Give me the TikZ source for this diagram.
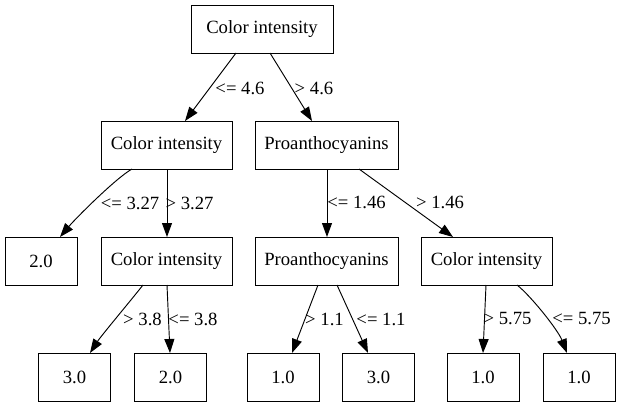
\documentclass[tikz,border=0pt]{standalone}
\usepackage{fontspec}
\setmainfont{Liberation Serif}
\newfontfamily\gvfont{Liberation Serif}
\usetikzlibrary{arrows.meta,calc}
\begin{document}
\begin{tikzpicture}[x=0.75pt,y=-0.75pt,
  box/.style={draw,line width=0.7pt,rectangle,minimum height=36pt,inner sep=0pt,outer sep=0pt,font=\gvfont\fontsize{14}{16}\selectfont},
  lbl/.style={inner sep=0pt,outer sep=0pt,font=\gvfont\fontsize{14}{16}\selectfont},
  edge/.style={line width=0.7pt,-{Triangle[length=10.5pt,width=7.5pt]}}]
\useasboundingbox (0,0) rectangle (620,407);
% nodes
\node[box,minimum width=106.5pt] (root) at (262,29) {Color intensity};
\node[box,minimum width=98.25pt] (ci1) at (166.5,145) {Color intensity};
\node[box,minimum width=107.25pt] (pr1) at (326.5,145) {Proanthocyanins};
\node[box,minimum width=54pt] (l20) at (41,261) {2.0};
\node[box,minimum width=98.25pt] (ci2) at (166.5,261) {Color intensity};
\node[box,minimum width=107.25pt] (pr2) at (326.5,261) {Proanthocyanins};
\node[box,minimum width=98.25pt] (ci3) at (486.5,261) {Color intensity};
\node[box,minimum width=54pt] (la) at (74.5,377) {3.0};
\node[box,minimum width=54pt] (lb) at (170.5,377) {2.0};
\node[box,minimum width=54pt] (lc) at (283,377) {1.0};
\node[box,minimum width=54pt] (ld) at (378.5,377) {3.0};
\node[box,minimum width=54pt] (le) at (483,377) {1.0};
\node[box,minimum width=54pt] (lf) at (579,377) {1.0};
% edges
\draw[edge] ($(root.south)+(-26,0)$) -- ($(ci1.north)+(18.5,0)$);
\draw[edge] ($(root.south)+(8,0)$) -- ($(pr1.north)+(-14.5,0)$);
\draw[edge] ($(ci1.south)+(-34.5,0)$) .. controls ($(ci1.south)+(-50.5,9)$) and ($(l20.north)+(35,-19)$) .. ($(l20.north)+(19,0)$);
\draw[edge] ($(ci1.south)+(0.5,0)$) -- ($(ci2.north)+(0.5,0)$);
\draw[edge] ($(pr1.south)+(0.5,0)$) -- ($(pr2.north)+(0.5,0)$);
\draw[edge] ($(pr1.south)+(32.5,0)$) -- ($(ci3.north)+(-33.5,0)$);
\draw[edge] ($(ci2.south)+(-23.5,0)$) .. controls ($(ci2.south)+(-34.5,14)$) and ($(la.north)+(26.5,-17)$) .. ($(la.north)+(15.5,0)$);
\draw[edge] ($(ci2.south)+(0.5,0)$) -- ($(lb.north)+(-0.5,0)$);
\draw[edge] ($(pr2.south)+(-8.5,0)$) -- ($(lc.north)+(9,0)$);
\draw[edge] ($(pr2.south)+(10.5,0)$) -- ($(ld.north)+(-10.5,0)$);
\draw[edge] ($(ci3.south)+(-0.5,0)$) -- ($(le.north)+(0,0)$);
\draw[edge] ($(ci3.south)+(30.5,0)$) .. controls ($(ci3.south)+(44.5,11)$) and ($(lf.north)+(-21,-23)$) .. ($(lf.north)+(-12,0)$);
% labels
\node[lbl] (t1) at (240,88) {<= 4.6};
\node[lbl] (t2) at (314,88) {> 4.6};
\node[lbl] (t3) at (130,203) {<= 3.27};
\node[lbl] (t4) at (189.5,203) {> 3.27};
\node[lbl] (t5) at (356.5,202) {<= 1.46};
\node[lbl] (t6) at (440,202) {> 1.46};
\node[lbl] (t7) at (142.5,319) {> 3.8};
\node[lbl] (t8) at (193,319) {<= 3.8};
\node[lbl] (t9) at (324.5,319) {> 1.1};
\node[lbl] (t10) at (381,319) {<= 1.1};
\node[lbl] (t11) at (507.5,319) {> 5.75};
\node[lbl] (t12) at (581.5,319) {<= 5.75};
\end{tikzpicture}
\end{document}
